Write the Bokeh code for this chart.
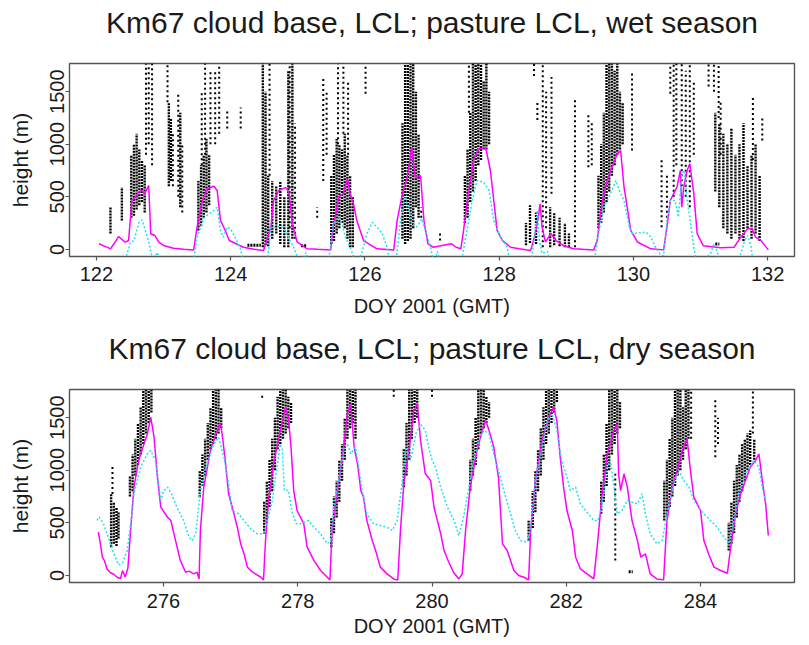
from bokeh.plotting import figure
from bokeh.layouts import column
from bokeh.models import Range1d, FixedTicker, ColumnDataSource, Title
from bokeh.embed import file_html
from bokeh.resources import INLINE

# ---------------- data ----------------
wet_title = "Km67 cloud base, LCL; pasture LCL, wet season"
dry_title = "Km67 cloud base, LCL; pasture LCL, dry season"
x_label = "DOY 2001 (GMT)"
y_label = "height (m)"
wet_xticks = [122, 124, 126, 128, 130, 132]
dry_xticks = [276, 278, 280, 282, 284]
y_ticks = [0, 500, 1000, 1500]
wet_xlim = (122, 132)
dry_xlim = (275, 285)
ylim = (0, 1700)

# Km67 LCL (magenta), wet season: (DOY, m)
wet_km67_lcl = [
    (122.04, 53), (122.10, 35), (122.16, 21), (122.21, 5), (122.27, 60), (122.33, 122), (122.38, 95),
    (122.43, 68), (122.48, 84), (122.53, 465), (122.58, 497), (122.63, 544), (122.68, 560), (122.72, 528),
    (122.78, 607), (122.81, 148), (122.87, 132), (122.93, 68), (123.00, 37), (123.15, 11), (123.30, 0),
    (123.45, -5), (123.50, 211), (123.58, 465), (123.65, 576), (123.75, 600), (123.80, 560), (123.85, 274),
    (123.92, 180), (123.98, 84), (124.19, 20), (124.35, 0), (124.49, -10), (124.60, 211), (124.64, 465),
    (124.72, 560), (124.82, 590), (124.87, 545), (124.92, 243), (124.99, 70), (125.14, 5), (125.30, 0),
    (125.49, -5), (125.53, 211), (125.61, 500), (125.68, 530), (125.74, 670), (125.78, 530), (125.83, 434),
    (125.88, 274), (125.98, 84), (126.18, 5), (126.43, -5), (126.48, 274), (126.55, 500), (126.63, 686),
    (126.70, 972), (126.75, 686), (126.83, 700), (126.88, 274), (126.94, 53), (127.02, 20), (127.13, 35),
    (127.29, 53), (127.36, 20), (127.43, 5), (127.47, 180), (127.54, 530), (127.62, 845), (127.69, 957),
    (127.80, 967), (127.87, 750), (127.97, 180), (128.05, 84), (128.17, 20), (128.30, 5), (128.47, -10),
    (128.54, 150), (128.59, 338), (128.61, 434), (128.64, 211), (128.69, 70), (128.77, 150), (128.85, 84),
    (128.96, 35), (129.11, 5), (129.25, 0), (129.41, -5), (129.46, 84), (129.53, 434), (129.61, 655),
    (129.68, 780), (129.76, 910), (129.81, 940), (129.86, 595), (129.90, 434), (129.96, 180), (130.06, 70),
    (130.26, 5), (130.45, -5), (130.50, 211), (130.55, 465), (130.65, 595), (130.70, 750), (130.72, 400),
    (130.75, 595), (130.80, 750), (130.84, 815), (130.90, 530), (130.95, 150), (131.04, 35), (131.30, 15),
    (131.50, 20), (131.60, 116), (131.70, 195), (131.77, 195), (131.82, 116), (131.90, 84), (132.01, -5),
]

# pasture LCL (cyan, dotted), wet season; values under the axis run off the bottom
wet_pasture_lcl = [
    (122.04, -250), (122.40, -150), (122.45, -60), (122.51, 70), (122.56, 80), (122.63, 250), (122.68, 280),
    (122.72, 200), (122.78, 70), (122.84, -100), (122.91, -30), (122.96, -150), (123.40, -200), (123.46, -60),
    (123.50, 116), (123.61, 306), (123.75, 370), (123.80, 400), (123.85, 180), (123.89, 116), (123.95, 211),
    (124.00, 195), (124.14, 20), (124.20, -150), (124.52, -150), (124.56, -40), (124.60, 211), (124.70, 215),
    (124.78, 211), (124.86, 116), (124.94, 20), (125.04, -150), (125.12, -30), (125.17, -150), (125.45, -150),
    (125.53, 243), (125.61, 306), (125.66, 243), (125.71, 116), (125.78, 20), (125.88, -150), (125.96, -20),
    (126.03, 150), (126.11, 258), (126.18, 211), (126.26, 150), (126.33, 20), (126.38, -150), (126.46, -150),
    (126.53, 274), (126.60, 500), (126.65, 400), (126.70, 243), (126.77, 211), (126.85, 290), (126.90, 180),
    (126.98, 20), (127.03, -150), (127.08, -20), (127.13, -150), (127.43, -150), (127.52, 180), (127.60, 465),
    (127.67, 655), (127.77, 640), (127.85, 560), (127.92, 274), (128.02, 116), (128.12, 20), (128.17, -150),
    (128.47, -150), (128.52, 84), (128.57, 370), (128.60, 84), (128.64, -40), (128.72, -20), (128.77, -150),
    (129.41, -150), (129.48, 150), (129.56, 400), (129.66, 530), (129.74, 655), (129.79, 560), (129.86, 465),
    (129.94, 211), (129.99, 150), (130.19, 165), (130.26, 116), (130.33, 20), (130.40, -50), (130.45, -60),
    (130.50, 274), (130.55, 465), (130.62, 465), (130.67, 306), (130.72, 718), (130.76, 750), (130.80, 465),
    (130.84, 306), (130.90, 20), (130.95, -150), (131.15, -40), (131.20, 53), (131.25, -20), (131.30, -150),
    (131.55, -150), (131.65, 70), (131.70, 132), (131.75, 35), (131.79, -150), (132.01, -200),
]

# ceilometer cloud base, wet season: dense streaks (DOY, bottom m, top m)
wet_cloud_dense = [
    (122.21, 150, 400), (122.38, 275, 590), (122.52, 300, 900), (122.56, 320, 1000), (122.60, 380, 1100),
    (122.64, 420, 950), (122.68, 450, 850), (122.72, 350, 800), (123.08, 600, 1400), (123.11, 650, 1250),
    (123.25, 400, 1300), (123.52, 180, 650), (123.56, 220, 800), (123.60, 300, 900), (123.64, 350, 1050),
    (123.68, 420, 900), (124.48, 20, 1768), (124.52, 40, 1500), (124.56, 30, 700), (124.62, 100, 650),
    (124.68, 150, 600), (124.74, 50, 650), (124.80, 20, 500), (124.86, 20, 1700), (124.92, 100, 1768),
    (125.50, 50, 700), (125.54, 80, 900), (125.58, 150, 1050), (125.62, 200, 1000), (125.66, 250, 950),
    (125.70, 200, 1100), (125.74, 100, 900), (125.78, 20, 700), (125.82, 20, 500), (126.56, 100, 1200),
    (126.60, 50, 1768), (126.64, 80, 1768), (126.68, 100, 1768), (126.72, 200, 1768), (126.76, 400, 1500),
    (126.80, 300, 1100), (127.49, 250, 700), (127.53, 300, 950), (127.57, 450, 1300), (127.61, 550, 1768),
    (127.65, 650, 1768), (127.69, 800, 1768), (127.73, 850, 1768), (127.77, 950, 1600), (127.81, 950, 1768),
    (127.85, 1000, 1500), (128.40, 40, 250), (128.46, 60, 420), (128.55, 50, 350), (128.76, 20, 400),
    (128.82, 40, 350), (128.90, 30, 300), (128.98, 20, 250), (129.04, 20, 150), (129.48, 200, 700),
    (129.52, 250, 1000), (129.56, 350, 1300), (129.60, 450, 1768), (129.64, 550, 1768), (129.68, 700, 1768),
    (129.72, 800, 1700), (129.76, 900, 1768), (129.80, 950, 1500), (129.84, 1000, 1400), (131.22, 550, 1300),
    (131.28, 400, 1200), (131.34, 200, 1100), (131.40, 150, 1000), (131.46, 100, 1150), (131.52, 150, 900),
    (131.58, 100, 1000), (131.64, 80, 1200), (131.70, 200, 800), (131.76, 100, 900), (131.82, 150, 1000),
    (131.88, 80, 700),
]
# sparse columns of cloud-base hits, wet season (DOY, bottom m, top m)
wet_cloud_sparse = [
    (122.74, 900, 1768), (122.78, 1000, 1768), (122.83, 800, 1768), (123.06, 1400, 1768), (123.14, 600, 1100),
    (123.22, 500, 1500), (123.28, 350, 1000), (123.57, 800, 1500), (123.62, 900, 1768), (123.70, 1000, 1700),
    (123.77, 1000, 1700), (123.83, 1100, 1768), (123.95, 1150, 1330), (124.15, 1150, 1350), (124.58, 700, 1768),
    (124.88, 200, 1768), (124.96, 100, 1200), (125.29, 300, 400), (125.38, 650, 1650), (125.43, 900, 1500),
    (125.60, 1000, 1768), (125.68, 1100, 1768), (125.75, 900, 1600), (126.01, 1480, 1768), (126.84, 300, 400),
    (127.12, 85, 180), (127.55, 1300, 1768), (128.52, 1650, 1768), (128.57, 1230, 1420), (128.65, 20, 1768),
    (128.70, 200, 1500), (128.78, 530, 1640), (129.13, 20, 1420), (129.33, 780, 1290), (129.38, 800, 1200),
    (129.98, 940, 1700), (130.42, 211, 850), (130.50, 300, 700), (130.55, 1480, 1768), (130.60, 500, 1768),
    (130.64, 800, 1768), (130.72, 600, 1768), (130.78, 500, 1700), (130.84, 400, 1768), (130.90, 900, 1600),
    (131.12, 1550, 1768), (131.20, 1500, 1768), (131.27, 1250, 1768), (131.30, 900, 1400), (131.78, 850, 1450),
    (131.92, 1036, 1260),
]
# near-ground rows of cloud-base hits, wet season (DOY start, DOY end, m)
wet_cloud_rows = [(124.25, 124.45, 40), (125.05, 125.14, 35), (131.22, 131.28, 50)]

# Km67 LCL (magenta), dry season
dry_km67_lcl = [
    (275.03, 411), (275.06, 300), (275.09, 173), (275.12, 140), (275.16, 60), (275.21, 25), (275.26, 10),
    (275.31, -18), (275.36, -30), (275.39, 45), (275.43, -15), (275.47, 70), (275.51, 427), (275.56, 839),
    (275.63, 1093), (275.71, 1251), (275.76, 1346), (275.81, 1505), (275.86, 1314), (275.91, 934),
    (275.96, 648), (276.06, 553), (276.11, 521), (276.18, 331), (276.25, 142), (276.33, 30), (276.38, 40),
    (276.45, 14), (276.50, 30), (276.53, -34), (276.55, 427), (276.60, 839), (276.70, 1188), (276.78, 1346),
    (276.85, 1441), (276.88, 1314), (276.92, 1093), (276.97, 776), (277.05, 585), (277.10, 458), (277.15, 300),
    (277.20, 205), (277.25, 78), (277.30, 46), (277.37, 14), (277.45, -18), (277.49, -43), (277.52, 331),
    (277.57, 744), (277.64, 1061), (277.74, 1378), (277.82, 1600), (277.86, 1505), (277.90, 1220),
    (277.94, 807), (277.99, 617), (278.09, 490), (278.14, 268), (278.24, 142), (278.34, 46), (278.44, -18),
    (278.48, -45), (278.51, 427), (278.59, 807), (278.66, 1093), (278.74, 1537), (278.79, 1632), (278.84, 1220),
    (278.89, 1061), (278.94, 807), (278.98, 744), (279.03, 521), (279.11, 331), (279.16, 236), (279.23, 78),
    (279.33, 14), (279.43, -34), (279.49, -45), (279.53, 427), (279.58, 871), (279.65, 1156), (279.73, 1568),
    (279.78, 1632), (279.83, 1283), (279.90, 966), (279.98, 902), (280.03, 648), (280.08, 521), (280.13, 395),
    (280.18, 236), (280.25, 125), (280.32, 30), (280.40, -34), (280.45, 14), (280.50, 427), (280.57, 839),
    (280.67, 1188), (280.75, 1378), (280.80, 1473), (280.85, 1378), (280.92, 1220), (280.99, 934),
    (281.05, 300), (281.12, 236), (281.17, 142), (281.22, 46), (281.29, -2), (281.37, -18), (281.44, -43),
    (281.47, 427), (281.54, 902), (281.64, 1283), (281.74, 1505), (281.81, 1600), (281.86, 1473),
    (281.91, 1124), (281.96, 839), (282.01, 617), (282.09, 427), (282.14, 173), (282.21, 62), (282.31, 14),
    (282.41, -34), (282.46, 268), (282.53, 744), (282.61, 1156), (282.71, 1378), (282.76, 1441), (282.78, 966),
    (282.81, 807), (282.86, 966), (282.91, 839), (282.98, 521), (283.06, 331), (283.11, 173), (283.18, 205),
    (283.25, 14), (283.35, -34), (283.45, -43), (283.50, 521), (283.58, 839), (283.65, 997), (283.73, 1188),
    (283.80, 1298), (283.85, 997), (283.90, 744), (284.00, 617), (284.05, 331), (284.12, 205), (284.20, 78),
    (284.30, 46), (284.40, 20), (284.45, 268), (284.52, 585), (284.60, 776), (284.67, 902), (284.74, 1029),
    (284.82, 1093), (284.87, 1156), (284.92, 902), (284.97, 680), (285.01, 379),
]

# pasture LCL (cyan, dotted), dry season
dry_pasture_lcl = [
    (275.01, 522), (275.04, 555), (275.10, 500), (275.16, 395), (275.21, 300), (275.26, 205), (275.33, 100),
    (275.39, 120), (275.46, 237), (275.53, 585), (275.56, 776), (275.66, 1029), (275.76, 1156), (275.81, 1188),
    (275.88, 1093), (275.96, 712), (276.00, 800), (276.06, 839), (276.12, 776), (276.20, 648), (276.30, 521),
    (276.38, 363), (276.43, 331), (276.48, 395), (276.55, 807), (276.65, 1061), (276.75, 1251), (276.82, 1314),
    (276.90, 1124), (276.97, 871), (277.02, 617), (277.12, 585), (277.20, 521), (277.30, 442), (277.40, 395),
    (277.49, 395), (277.55, 521), (277.62, 712), (277.69, 1029), (277.74, 1250), (277.77, 1200), (277.80, 807),
    (277.86, 810), (277.92, 585), (277.98, 490), (278.04, 490), (278.16, 521), (278.24, 458), (278.34, 395),
    (278.44, 300), (278.49, 331), (278.54, 648), (278.61, 902), (278.69, 1220), (278.74, 1251), (278.79, 1156),
    (278.86, 1220), (278.91, 1029), (278.96, 807), (279.03, 585), (279.13, 490), (279.23, 474), (279.33, 458),
    (279.41, 427), (279.48, 521), (279.56, 902), (279.61, 1220), (279.68, 1093), (279.76, 1346), (279.83, 1441),
    (279.90, 1378), (279.95, 1220), (280.00, 1100), (280.05, 1029), (280.13, 839), (280.23, 648), (280.33, 521),
    (280.40, 379), (280.47, 553), (280.55, 839), (280.62, 1093), (280.70, 1283), (280.77, 1378), (280.85, 1346),
    (280.92, 1156), (280.99, 997), (281.07, 807), (281.17, 585), (281.24, 427), (281.32, 331), (281.42, 315),
    (281.47, 458), (281.54, 902), (281.64, 1220), (281.72, 1473), (281.79, 1537), (281.86, 1378), (281.93, 1093),
    (282.01, 934), (282.06, 807), (282.14, 839), (282.21, 680), (282.31, 601), (282.41, 521), (282.47, 521),
    (282.53, 648), (282.61, 1029), (282.66, 1093), (282.71, 839), (282.76, 585), (282.83, 617), (282.91, 712),
    (282.98, 696), (283.06, 680), (283.13, 776), (283.18, 585), (283.25, 395), (283.35, 300), (283.43, 331),
    (283.50, 585), (283.60, 871), (283.68, 997), (283.75, 902), (283.83, 839), (283.90, 712), (283.97, 648),
    (284.05, 585), (284.15, 521), (284.25, 458), (284.35, 363), (284.42, 300), (284.50, 521), (284.57, 776),
    (284.65, 934), (284.72, 1013), (284.79, 1093), (284.87, 1029), (284.92, 839), (284.97, 712),
]

# ceilometer cloud base, dry season: dense streaks (DOY, bottom m, top m)
dry_cloud_dense = [
    (275.22, 268, 775), (275.26, 300, 700), (275.30, 280, 650), (275.33, 350, 600),
    (275.50, 750, 950), (275.54, 800, 1150), (275.58, 950, 1300), (275.62, 1050, 1450), (275.66, 1150, 1600),
    (275.70, 1250, 1768), (275.74, 1350, 1768), (275.78, 1450, 1768), (275.82, 1550, 1768),
    (276.54, 744, 1000), (276.58, 850, 1150), (276.62, 950, 1300), (276.66, 1100, 1450), (276.70, 1200, 1600),
    (276.74, 1250, 1768), (276.78, 1300, 1768), (276.82, 1350, 1768), (276.86, 1400, 1600),
    (277.50, 395, 700), (277.54, 500, 900), (277.58, 650, 1100), (277.62, 800, 1300), (277.66, 1000, 1500),
    (277.70, 1200, 1700), (277.74, 1250, 1768), (277.78, 1300, 1768), (277.82, 1350, 1768), (277.86, 1400, 1700),
    (277.90, 1450, 1650),
    (278.50, 268, 550), (278.54, 400, 750), (278.58, 550, 900), (278.62, 700, 1100), (278.66, 900, 1250),
    (278.70, 1100, 1500), (278.74, 1300, 1768), (278.78, 1400, 1768), (278.82, 1450, 1768), (278.86, 1300, 1768),
    (279.58, 839, 1200), (279.62, 950, 1450), (279.66, 1100, 1768), (279.70, 1300, 1768), (279.74, 1450, 1768),
    (279.78, 1500, 1768),
    (280.57, 807, 1100), (280.61, 950, 1300), (280.65, 1050, 1500), (280.69, 1200, 1768), (280.73, 1350, 1768),
    (280.77, 1400, 1768), (280.81, 1450, 1700), (280.85, 1500, 1650),
    (281.44, 331, 520), (281.50, 450, 800), (281.54, 600, 1000), (281.58, 800, 1200), (281.62, 950, 1400),
    (281.66, 1100, 1600), (281.70, 1250, 1768), (281.74, 1350, 1768), (281.78, 1450, 1768), (281.82, 1550, 1768),
    (281.86, 1650, 1768),
    (282.52, 585, 900), (282.56, 700, 1150), (282.60, 850, 1450), (282.64, 1000, 1768), (282.68, 1150, 1768),
    (282.72, 1250, 1768), (282.76, 1350, 1768), (282.80, 1400, 1650),
    (283.46, 522, 900), (283.50, 550, 1100), (283.54, 650, 1300), (283.58, 750, 1500), (283.62, 850, 1768),
    (283.66, 950, 1768), (283.70, 1000, 1768), (283.74, 1100, 1600), (283.78, 1200, 1768), (283.82, 1300, 1768),
    (284.42, 236, 500), (284.46, 300, 700), (284.50, 400, 900), (284.54, 550, 1050), (284.58, 700, 1150),
    (284.62, 800, 1250), (284.66, 900, 1300), (284.70, 1000, 1350), (284.74, 1050, 1378), (284.80, 1100, 1300),
]
# sparse columns of cloud-base hits, dry season
dry_cloud_sparse = [
    (275.24, 775, 1045), (277.47, 1690, 1720), (279.43, 1700, 1768), (280.00, 1700, 1768), (282.73, 141, 966),
    (283.86, 1300, 1768), (284.22, 1124, 1695), (284.26, 1250, 1500), (284.78, 1350, 1768),
]
dry_cloud_rows = [(282.93, 282.99, 35)]

# ---------------- drawing ----------------
FONT = "Liberation Sans"
TXT = "#1a1a1a"
FRAME = "#555555"
MAGENTA = "#ff00ff"
CYAN = "#1ee3f0"


def make_panel(title, xlim, xticks, km67, pasture, dense, sparse, rows,
               top, bottom, title_standoff, tick_standoff, label_standoff):
    pad = 0.04 * (xlim[1] - xlim[0])
    ypad = 0.04 * (ylim[1] - ylim[0])
    p = figure(frame_width=725, frame_height=193, output_backend="svg", toolbar_location=None,
               x_range=Range1d(xlim[0] - pad, xlim[1] + pad),
               y_range=Range1d(ylim[0] - ypad, ylim[1] + ypad),
               min_border_left=69, min_border_right=14, min_border_top=top, min_border_bottom=bottom)
    # small empty spacer between the frame and the title
    p.add_layout(Title(text=" ", text_font_size="19px", standoff=0), "above")
    p.title.text = title
    p.title.align = "center"
    p.title.text_font = FONT
    p.title.text_font_size = "30px"
    p.title.text_font_style = "normal"
    p.title.text_color = TXT
    p.title.standoff = title_standoff
    p.grid.visible = False
    p.outline_line_color = FRAME
    p.outline_line_width = 1.4
    p.background_fill_color = "white"
    p.border_fill_color = "white"

    for ax in (p.xaxis, p.yaxis):
        ax.axis_line_color = None
        ax.major_tick_line_color = FRAME
        ax.major_tick_line_width = 1.2
        ax.major_tick_in = 0
        ax.major_tick_out = 4
        ax.minor_tick_line_color = None
        ax.major_label_text_font = FONT
        ax.major_label_text_font_size = "20px"
        ax.major_label_text_color = TXT
        ax.axis_label_text_font = FONT
        ax.axis_label_text_font_style = "normal"
        ax.axis_label_text_color = TXT
    p.xaxis.axis_label_text_font_size = "20px"
    p.yaxis.axis_label_text_font_size = "21px"

    p.xaxis.ticker = FixedTicker(ticks=xticks)
    p.yaxis.ticker = FixedTicker(ticks=y_ticks)
    p.xaxis.axis_label = x_label
    p.yaxis.axis_label = y_label
    p.xaxis.major_label_standoff = tick_standoff
    p.xaxis.axis_label_standoff = label_standoff
    p.yaxis.major_label_standoff = 1
    p.yaxis.axis_label_standoff = 16
    p.yaxis.major_label_orientation = "vertical"

    ds = ColumnDataSource(dict(x=[d[0] for d in dense], y0=[d[1] for d in dense], y1=[d[2] for d in dense]))
    p.segment(x0="x", y0="y0", x1="x", y1="y1", source=ds, line_color="black",
              line_width=2.4, line_dash="2 1")
    ss = ColumnDataSource(dict(x=[d[0] for d in sparse], y0=[d[1] for d in sparse], y1=[d[2] for d in sparse]))
    p.segment(x0="x", y0="y0", x1="x", y1="y1", source=ss, line_color="black",
              line_width=2, line_dash="2 3")
    rs = ColumnDataSource(dict(x0=[r[0] for r in rows], x1=[r[1] for r in rows], y=[r[2] for r in rows]))
    p.segment(x0="x0", y0="y", x1="x1", y1="y", source=rs, line_color="black",
              line_width=3, line_dash="2 1")

    p.line([d[0] for d in km67], [d[1] for d in km67], line_color=MAGENTA, line_width=1.5)
    p.line([d[0] for d in pasture], [d[1] for d in pasture], line_color=CYAN, line_width=1.5,
           line_dash="2 2")
    return p


p1 = make_panel(wet_title, wet_xlim, wet_xticks, wet_km67_lcl, wet_pasture_lcl,
                wet_cloud_dense, wet_cloud_sparse, wet_cloud_rows,
                top=63, bottom=70, title_standoff=4, tick_standoff=6, label_standoff=11)
p2 = make_panel(dry_title, dry_xlim, dry_xticks, dry_km67_lcl, dry_pasture_lcl,
                dry_cloud_dense, dry_cloud_sparse, dry_cloud_rows,
                top=63, bottom=63, title_standoff=4, tick_standoff=7, label_standoff=4)

layout = column(p1, p2)
open("out.html", "w").write(file_html(layout, INLINE))
